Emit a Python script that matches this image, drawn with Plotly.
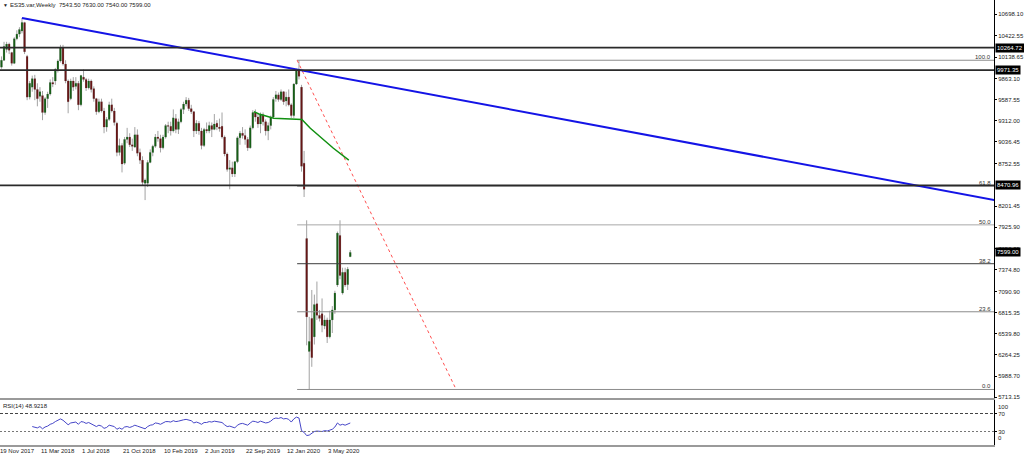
import pandas as pd
import plotly.graph_objects as go

# ---------------- data ----------------
weeks = pd.date_range("2017-11-19", periods=138, freq="7D")

opens = [10080, 10010, 10100, 10240, 10310, 10200, 10060, 10380, 10440, 10480,
         10590, 10150, 9620, 9750, 9860, 9720, 9630, 9640, 9420, 9600,
         9660, 9810, 9830, 9980, 10090, 10260, 10050, 9830, 9600, 9830,
         9760, 9800, 9520, 9880, 9850, 9740, 9830, 9730, 9600, 9430,
         9560, 9440, 9230, 9330, 9520, 9440, 9280, 8900, 8990, 8760,
         9070, 9100, 9000, 8970, 9130, 8900, 8800, 8500, 8500, 8770,
         8900, 8980, 9100, 9080, 8960, 9100, 9250, 9240, 9180, 9340,
         9200, 9300, 9460, 9530, 9580, 9470, 9430, 9180, 9280, 9180,
         8990, 9200, 9180, 9250, 9200, 9280, 9230, 9240, 9100, 8880,
         8680, 8700, 8620, 8780, 9090, 9150, 9120, 9070, 8960, 9220,
         9420, 9360, 9270, 9390, 9300, 9180, 9250, 9360, 9600, 9650,
         9590, 9690, 9570, 9620, 9520, 9380, 9790, 9960, 9750, 8760,
         7780, 6310, 6740, 6500, 6930, 6780, 6800, 6640, 6720, 6500,
         6720, 6850, 7175, 7820, 7070, 7340, 7180, 7543.5]
highs = [10120, 10150, 10340, 10340, 10330, 10210, 10400, 10490, 10530, 10650,
         10600, 10170, 9830, 9900, 9910, 9800, 9750, 9700, 9620, 9690,
         9850, 9880, 10000, 10110, 10300, 10300, 10100, 9850, 9860, 9880,
         9880, 9830, 9910, 9980, 9870, 9860, 9850, 9760, 9610, 9600,
         9600, 9480, 9360, 9560, 9600, 9480, 9300, 9080, 9020, 9100,
         9220, 9150, 9080, 9230, 9200, 8950, 8850, 8560, 8800, 8940,
         9000, 9140, 9180, 9130, 9130, 9270, 9300, 9300, 9460, 9400,
         9340, 9480, 9560, 9620, 9610, 9520, 9440, 9320, 9310, 9220,
         9220, 9290, 9300, 9290, 9400, 9320, 9340, 9420, 9120, 8900,
         8800, 8780, 8790, 9110, 9180, 9230, 9200, 9100, 9250, 9450,
         9460, 9400, 9420, 9420, 9330, 9290, 9380, 9620, 9700, 9680,
         9720, 9700, 9690, 9720, 9540, 9800, 9990, 10100, 9780, 8920,
         8017, 6760, 7110, 7050, 7220, 6850, 7000, 6780, 6750, 6840,
         6900, 7100, 7870, 8017, 7400, 7400, 7410, 7630]
lows = [9960, 9990, 10090, 10200, 10180, 10030, 10050, 10360, 10400, 10450,
        10180, 9580, 9590, 9690, 9580, 9500, 9560, 9320, 9390, 9480,
        9640, 9750, 9780, 9940, 10070, 10030, 9800, 9410, 9580, 9700,
        9720, 9450, 9500, 9820, 9700, 9720, 9680, 9560, 9390, 9410,
        9420, 9150, 9170, 9310, 9420, 9250, 8850, 8860, 8640, 8740,
        9020, 8970, 8920, 8960, 8850, 8750, 8470, 8280, 8450, 8760,
        8850, 8960, 9040, 8900, 8940, 9080, 9150, 9120, 9160, 9150,
        9140, 9280, 9400, 9500, 9440, 9400, 9100, 9140, 9130, 8940,
        8970, 9150, 9150, 9100, 9190, 9190, 9170, 9080, 8850, 8650,
        8420, 8580, 8580, 8760, 9000, 9080, 9000, 8920, 8950, 9200,
        9300, 9220, 9150, 9250, 9120, 9060, 9200, 9350, 9560, 9560,
        9570, 9520, 9500, 9500, 9350, 9350, 9780, 9850, 8650, 8320,
        6390, 5815, 6110, 6400, 6720, 6700, 6560, 6600, 6420, 6480,
        6550, 6800, 7150, 7250, 7050, 7150, 7110, 7540]
closes = [10010, 10100, 10280, 10310, 10230, 10060, 10380, 10440, 10500, 10590,
          10210, 9620, 9800, 9860, 9720, 9600, 9690, 9420, 9600, 9660,
          9810, 9790, 9980, 10090, 10260, 10050, 9830, 9560, 9830, 9750,
          9800, 9520, 9900, 9850, 9740, 9830, 9720, 9600, 9430, 9560,
          9440, 9230, 9330, 9520, 9440, 9290, 8900, 8990, 8750, 9070,
          9100, 9000, 8980, 9130, 8890, 8800, 8510, 8540, 8770, 8900,
          8980, 9100, 9080, 8960, 9100, 9250, 9240, 9180, 9350, 9200,
          9300, 9460, 9530, 9580, 9470, 9430, 9180, 9280, 9180, 8990,
          9200, 9180, 9250, 9200, 9270, 9230, 9210, 9100, 8880, 8680,
          8700, 8620, 8780, 9090, 9150, 9120, 9070, 8960, 9220, 9420,
          9360, 9270, 9390, 9300, 9180, 9250, 9360, 9590, 9650, 9590,
          9690, 9560, 9620, 9520, 9380, 9790, 9960, 9890, 8720, 8420,
          6760, 6440, 6230, 6920, 6780, 6740, 6650, 6720, 6500, 6720,
          6850, 7070, 7850, 7300, 7340, 7175, 7380, 7599]

rsi_first_week = 13
rsi_values = [41, 39, 38, 41, 36, 40, 42, 46, 48, 52,
              55, 58, 55, 50, 45, 49, 50, 51, 46, 52,
              51, 48, 50, 47, 44, 41, 44, 42, 37, 39,
              44, 43, 41, 35, 38, 35, 40, 41, 39, 41,
              44, 42, 40, 37, 36, 41, 44, 45, 49, 48,
              46, 49, 52, 52, 51, 54, 52, 53, 55, 56,
              57, 55, 54, 49, 51, 49, 46, 50, 50, 52,
              51, 53, 52, 51, 50, 45, 41, 42, 40, 38,
              44, 47, 48, 46, 44, 49, 53, 52, 50, 53,
              51, 49, 50, 53, 58, 60, 59, 61, 58, 59,
              57, 51, 58, 62, 60, 32, 28, 21, 22, 26,
              30, 31, 31, 30, 32, 31, 33, 35, 40, 49,
              44, 46, 44, 46, 48.9218]

trend_dates = ["2018-01-21", "2025-12-28"]
trend_values = [10650, 8063]

fib_dates = ["2020-02-11", "2021-04-20"]
fib_prices = [10100, 5815]
fib_levels = [0.0, 23.6, 38.2, 50.0, 61.8, 100.0]
fib_colors = ["#8c8c8c", "#8c8c8c", "#3c3c3c", "#a8a8a8", "#5a5a5a", "#8c8c8c"]

ma_dates = ["2019-10-16", "2019-10-30", "2019-12-09", "2020-02-24", "2020-03-18", "2020-05-20", "2020-07-01"]
ma_values = [9430, 9400, 9345, 9330, 9215, 8955, 8800]

hlines = [10264.72, 9971.35, 8470.96]
price_tags = [10264.72, 9971.35, 8470.96, 7599.00]

y_ticks = [10698.10, 10422.55, 10138.65, 9863.10, 9587.55, 9312.00, 9036.45, 8752.55,
           8201.45, 7925.90, 7650.35, 7374.80, 7090.90, 6815.35, 6539.80, 6264.25,
           5988.70, 5713.15]
rsi_ticks = [70, 30]
rsi_edge_labels = [100, 0]

date_labels = ["19 Nov 2017", "11 Mar 2018", "1 Jul 2018", "21 Oct 2018", "10 Feb 2019",
               "2 Jun 2019", "22 Sep 2019", "12 Jan 2020", "3 May 2020"]
date_ticks = ["2017-11-19", "2018-03-11", "2018-07-01", "2018-10-21", "2019-02-10",
              "2019-06-02", "2019-09-22", "2020-01-12", "2020-05-03"]

title_text = "ES35.var,Weekly  7543.50 7630.00 7540.00 7599.00"
rsi_text = "RSI(14) 48.9218"

x_range = ["2017-11-22", "2025-04-27"]
y_range = [5704, 10884]

FONT = "Liberation Sans, Arial, sans-serif"

# ---------------- figure ----------------
fig = go.Figure()

# wicks / outlines
fig.add_trace(go.Candlestick(
    x=weeks, open=opens, high=highs, low=lows, close=closes,
    increasing=dict(line=dict(color="#a3a3a3", width=1), fillcolor="#a3a3a3"),
    decreasing=dict(line=dict(color="#a3a3a3", width=1), fillcolor="#a3a3a3"),
    whiskerwidth=0, hoverinfo="skip", xaxis="x", yaxis="y"))

# coloured bodies drawn over the candles
for up, col in [(True, "#165e16"), (False, "#661616")]:
    bx, by = [], []
    for d, o, c in zip(weeks, opens, closes):
        if (c >= o) == up:
            bx += [d, d, None]
            by += [o, c, None]
    fig.add_trace(go.Scatter(x=bx, y=by, mode="lines", line=dict(color=col, width=1.8),
                             hoverinfo="skip", xaxis="x", yaxis="y"))

# fibonacci levels (rays to the right)
for lvl, col in zip(fib_levels, fib_colors):
    val = fib_prices[1] + (fib_prices[0] - fib_prices[1]) * lvl / 100.0
    fig.add_trace(go.Scatter(x=[fib_dates[0], x_range[1]], y=[val, val], mode="lines",
                             line=dict(color=col, width=1), hoverinfo="skip",
                             xaxis="x", yaxis="y"))
    fig.add_annotation(xref="paper", yref="y", x=1.0, y=val, text=f"{lvl:.1f}",
                       xanchor="right", yanchor="bottom", showarrow=False,
                       xshift=-2, yshift=-1, borderpad=0,
                       font=dict(family=FONT, size=6, color="#333"))

# fib diagonal (red dotted)
fig.add_trace(go.Scatter(x=fib_dates, y=fib_prices, mode="lines",
                         line=dict(color="#ff5050", width=1, dash="dot"),
                         hoverinfo="skip", xaxis="x", yaxis="y"))

# green average line
fig.add_trace(go.Scatter(x=ma_dates, y=ma_values, mode="lines",
                         line=dict(color="#119011", width=1.5),
                         hoverinfo="skip", xaxis="x", yaxis="y"))

# blue trendline
fig.add_trace(go.Scatter(x=trend_dates, y=trend_values, mode="lines",
                         line=dict(color="#1414e6", width=2),
                         hoverinfo="skip", xaxis="x", yaxis="y"))

# RSI
fig.add_trace(go.Scatter(x=weeks[rsi_first_week:], y=rsi_values, mode="lines",
                         line=dict(color="#4646c8", width=1),
                         hoverinfo="skip", xaxis="x2", yaxis="y2"))

shapes = []
for h in hlines:
    shapes.append(dict(type="line", xref="paper", yref="y", x0=0, x1=1, y0=h, y1=h,
                       line=dict(color="#2a2a2a", width=1.6), layer="above"))
shapes.append(dict(type="line", xref="paper", yref="y2", x0=0, x1=1, y0=70, y1=70,
                   line=dict(color="#444", width=1, dash="3px,2px")))
shapes.append(dict(type="line", xref="paper", yref="y2", x0=0, x1=1, y0=30, y1=30,
                   line=dict(color="#777", width=1, dash="2px,2px")))

for p in price_tags:
    fig.add_annotation(xref="paper", yref="y", x=1.0, y=p, text=f"{p:.2f}",
                       xanchor="left", yanchor="middle", showarrow=False,
                       bgcolor="#000000", borderpad=1, xshift=1,
                       font=dict(family=FONT, size=6, color="#ffffff"))

for v, anc in zip(rsi_edge_labels, ["top", "bottom"]):
    fig.add_annotation(xref="paper", yref="y2", x=1.0, y=v, text=str(v),
                       xanchor="left", yanchor=anc, showarrow=False, xshift=2,
                       yshift=-2 if anc == "top" else 2,
                       font=dict(family=FONT, size=6, color="#222"))

# date labels: left-aligned at their week, positioned on the shared date scale
t0, t1 = pd.Timestamp(x_range[0]), pd.Timestamp(x_range[1])
for d, t in zip(date_ticks, date_labels):
    frac = (pd.Timestamp(d) - t0) / (t1 - t0)
    fig.add_annotation(xref="paper", yref="paper", x=frac, y=0, text=t, xanchor="left",
                       yanchor="top", showarrow=False, yshift=-1, xshift=-1,
                       font=dict(family=FONT, size=6, color="#222"))

fig.add_annotation(xref="paper", yref="paper", x=0.008, y=1, text=title_text,
                   xanchor="left", yanchor="top", showarrow=False, yshift=0,
                   font=dict(family=FONT, size=6, color="#222"))
fig.add_annotation(xref="paper", yref="paper", x=0.001, y=1, text="▼",
                   xanchor="left", yanchor="top", showarrow=False, yshift=0,
                   font=dict(family=FONT, size=5, color="#222"))
fig.add_annotation(xref="paper", yref="paper", x=0.001, y=0.1011, text=rsi_text,
                   xanchor="left", yanchor="top", showarrow=False, yshift=-1,
                   font=dict(family=FONT, size=6, color="#222"))

fig.update_layout(
    width=1024, height=455,
    margin=dict(l=0, r=27, t=0, b=10),
    paper_bgcolor="white", plot_bgcolor="white",
    showlegend=False,
    font=dict(family=FONT, size=6, color="#222"),
    shapes=shapes,
    xaxis=dict(domain=[0, 1], anchor="y", type="date", range=x_range,
               showticklabels=False, showgrid=False, zeroline=False,
               rangeslider=dict(visible=False), showline=True,
               linecolor="#9a9a9a", linewidth=2, ticks=""),
    yaxis=dict(domain=[0.1056, 1], anchor="x", side="right", range=y_range,
               tickvals=y_ticks, ticktext=[f"{v:.2f}" for v in y_ticks],
               showgrid=False, zeroline=False, ticks="outside", ticklen=2,
               tickcolor="#000", showline=True, linecolor="#000", linewidth=1,
               tickfont=dict(family=FONT, size=6, color="#222")),
    xaxis2=dict(domain=[0, 1], anchor="y2", type="date", range=x_range,
                matches="x", showticklabels=False, showgrid=False, zeroline=False,
                showline=True, mirror=True, linecolor="#9a9a9a", linewidth=2,
                ticks=""),
    yaxis2=dict(domain=[0, 0.1011], anchor="x2", side="right", range=[0, 100],
                tickvals=rsi_ticks, ticktext=[str(v) for v in rsi_ticks],
                showgrid=False, zeroline=False, ticks="outside", ticklen=2,
                tickcolor="#000", showline=True, linecolor="#000", linewidth=1,
                tickfont=dict(family=FONT, size=6, color="#222")),
)

fig.write_html("out.html", config={"displayModeBar": False},
               post_script="document.body.style.margin='0';document.body.style.overflow='hidden';")
